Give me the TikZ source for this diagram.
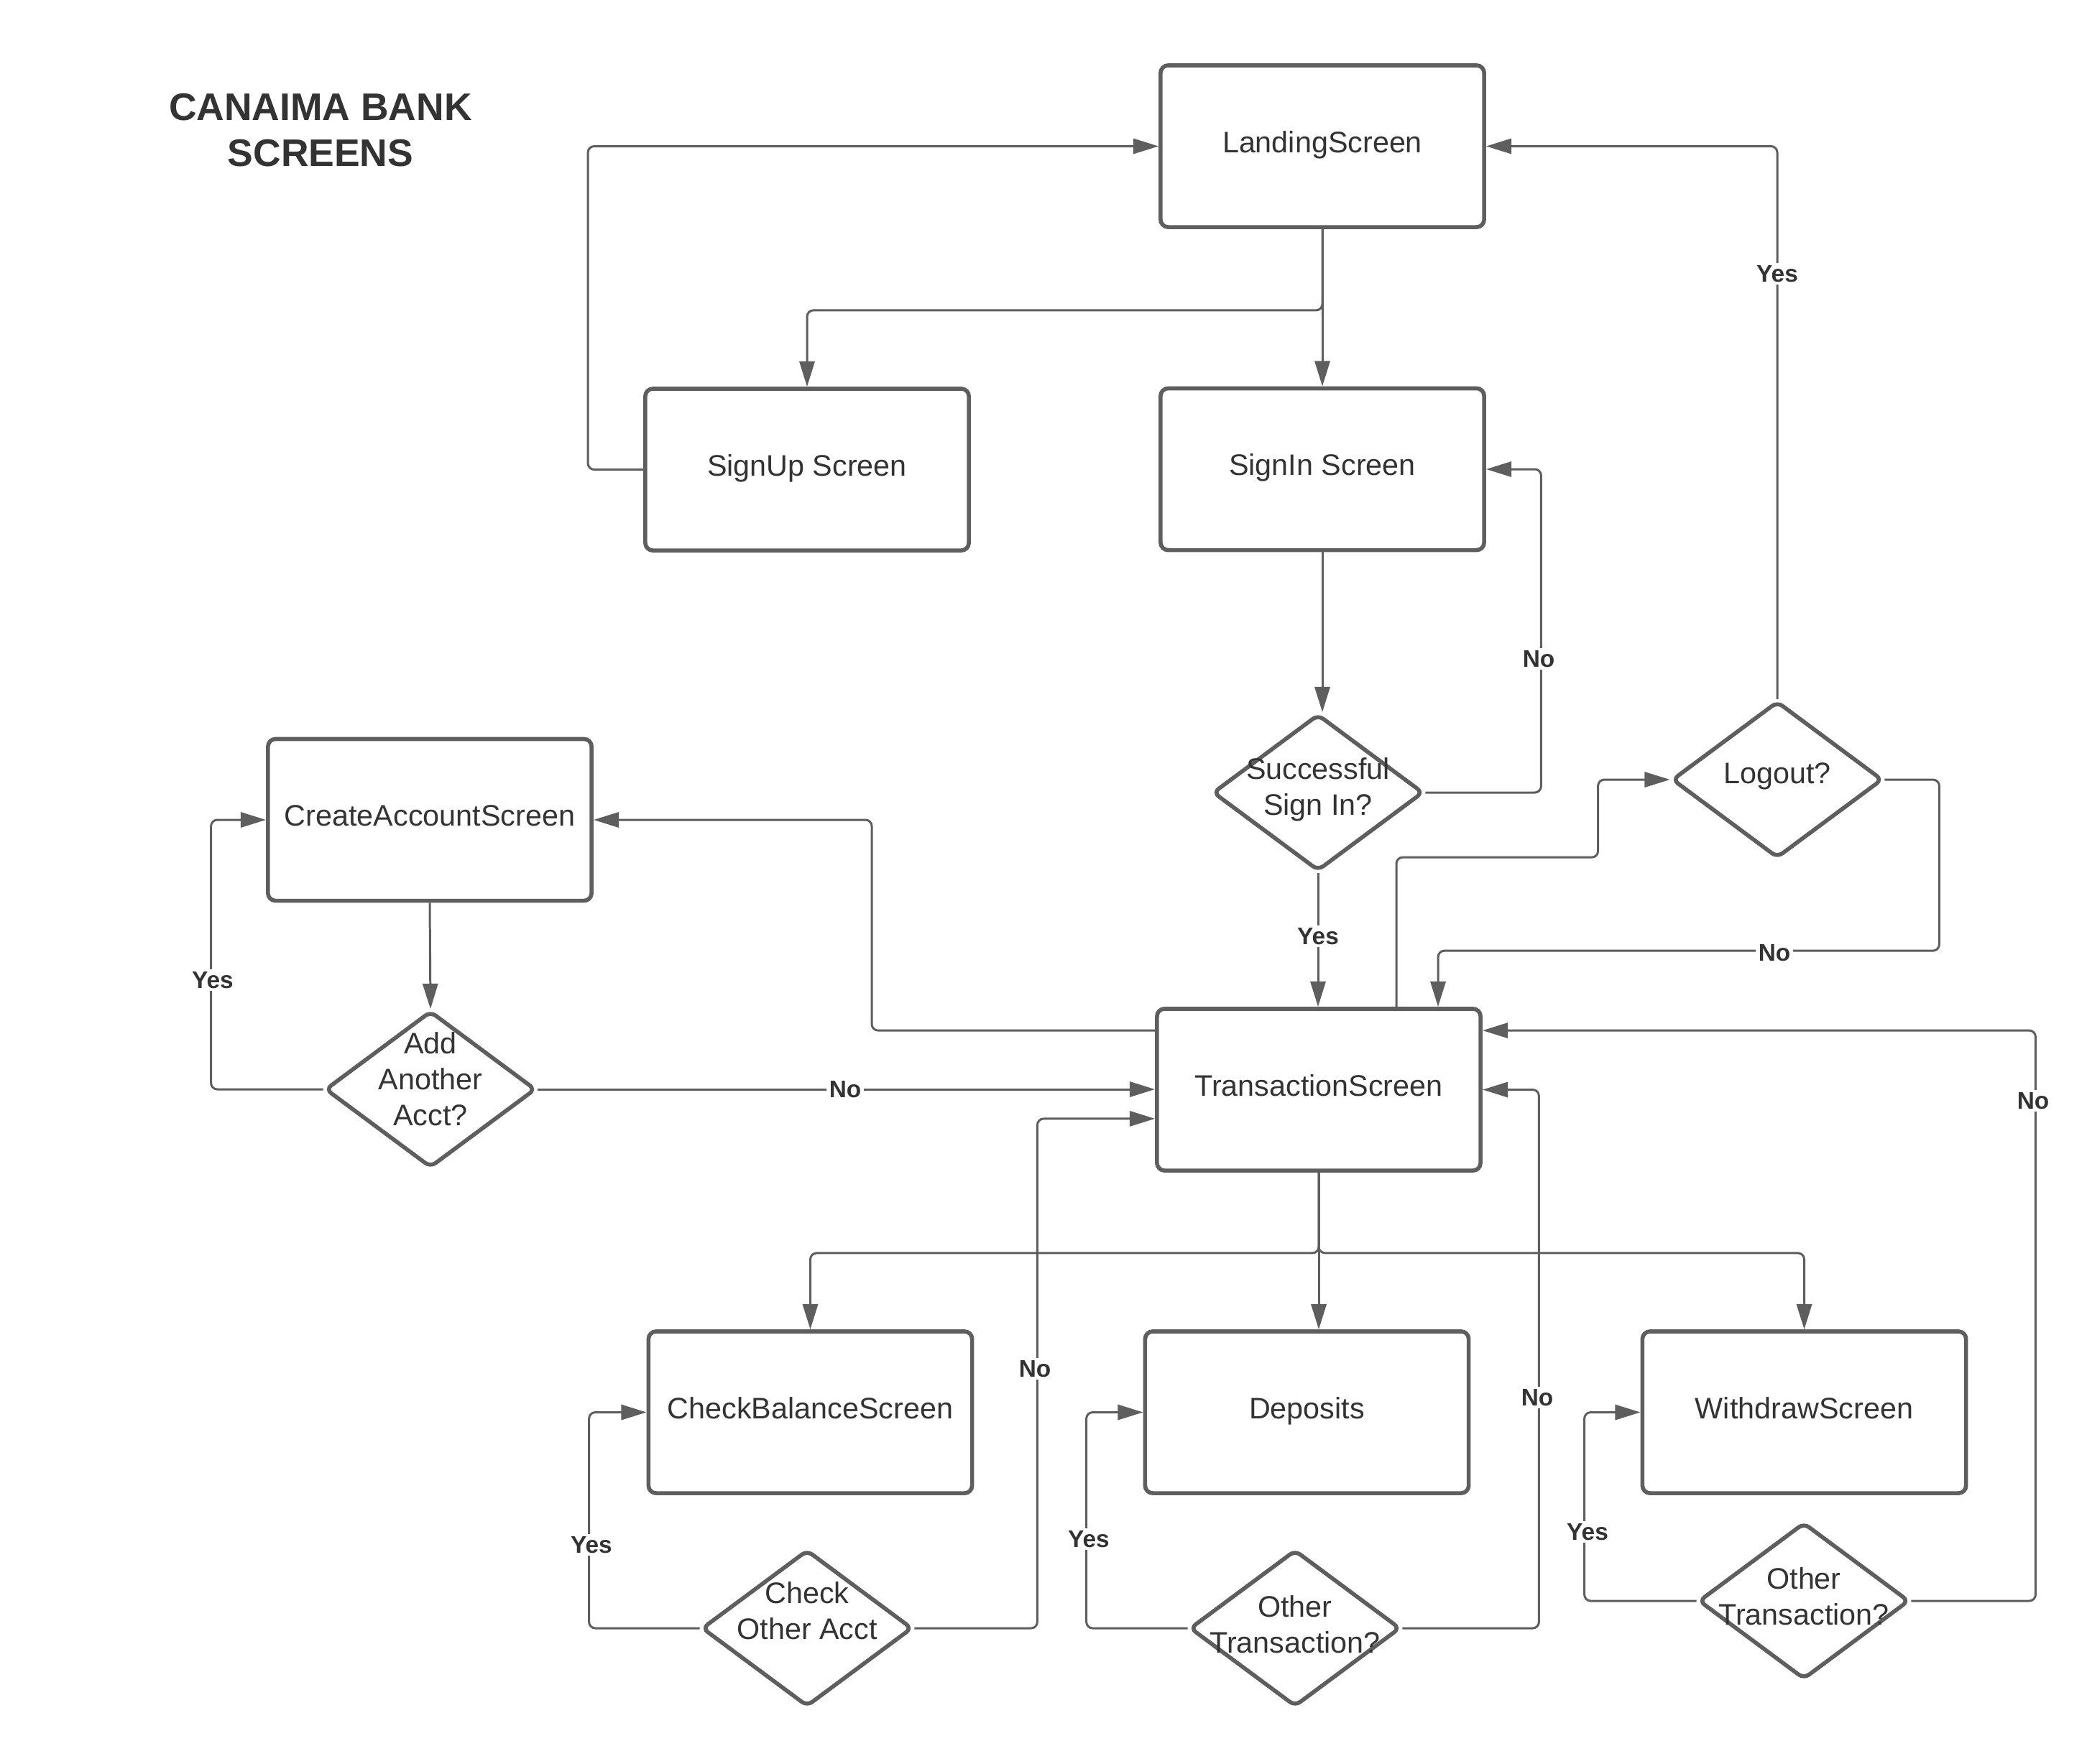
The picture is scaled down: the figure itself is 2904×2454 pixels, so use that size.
\documentclass[tikz,border=0pt]{standalone}
\usepackage{fontspec}
\setmainfont{Liberation Sans}
\usetikzlibrary{arrows.meta,shapes.geometric,calc}
\definecolor{lg}{RGB}{94,94,94}
\definecolor{tg}{RGB}{51,51,51}
\begin{document}
\begin{tikzpicture}[x=0.01cm,y=-0.01cm,
 screen/.style={draw=lg,line width=1.6pt,rounded corners=3pt,minimum width=4.5cm,minimum height=2.25cm,inner sep=0pt,text=tg,font=\fontsize{11.75}{14.2}\selectfont,text height=0.75em,text depth=0.25em},
 decision/.style={draw=lg,line width=1.6pt,diamond,rounded corners=2.5pt,minimum width=2.93cm,minimum height=2.18cm,inner sep=0pt},
 dtext/.style={text=tg,font=\fontsize{11.75}{14.2}\selectfont,align=center,inner sep=0pt},
 conn/.style={draw=lg,line width=0.85pt,rounded corners=2.5pt},
 arr/.style={conn,-{Triangle[length=10pt,width=6pt]}},
 lbl/.style={fill=white,text=tg,font=\bfseries\fontsize{9.5}{11}\selectfont,inner sep=1pt},
]
\useasboundingbox (0,0) rectangle (2904,2454);

\node[text=tg,font=\bfseries\fontsize{15.2}{18.2}\selectfont,align=center] (title) at (446,181) {CANAIMA BANK\\SCREENS};

\node[screen] (landing) at (1840,203.5) {LandingScreen};
\node[screen] (signup) at (1123,653.5) {SignUp Screen};
\node[screen] (signin) at (1840,653) {SignIn Screen};
\node[screen] (create) at (598,1141) {CreateAccountScreen};
\node[screen] (trans) at (1835,1516.5) {TransactionScreen};
\node[screen] (check) at (1127.5,1965.5) {CheckBalanceScreen};
\node[screen] (deposits) at (1818.5,1965.5) {Deposits};
\node[screen] (withdraw) at (2510.5,1965.5) {WithdrawScreen};

\node[decision] (succ) at (1834,1103) {};
\node[decision] (logout) at (2473,1085) {};
\node[decision] (addacct) at (599,1516) {};
\node[decision] (dcheck) at (1123,2266) {};
\node[decision] (ddep) at (1802,2266) {};
\node[decision] (dwith) at (2510,2228) {};

\node[dtext] (succT) at (1834,1099) {Successful\\Sign In?};
\node[dtext] (logoutT) at (2473,1080) {Logout?};
\node[dtext] (addT) at (599,1502) {Add\\Another\\Acct?};
\node[dtext] (dcheckT) at (1123,2242) {Check\\Other Acct};
\node[dtext] (ddepT) at (1802,2261) {Other\\Transaction?};
\node[dtext] (dwithT) at (2510,2222) {Other\\Transaction?};

\draw[arr] (signup.west) -- ++(-77,0) |- (landing.west);
\draw[arr] (landing.south) -- ++(0,113) -| (signup.north);
\draw[arr] (landing.south) -- (signin.north);
\draw[arr] (signin.south) -- (signin.south |- succ.north);
\draw[arr] (succ.east) -- ++(161,0) |- (signin.east);
\draw[arr] (succ.south) -- (succ.south |- trans.north);
\draw[arr] ($(trans.north)+(108,0)$) -- ++(0,-208) -| ($(logout.west)+(-100,0)$) -- (logout.west);
\draw[arr] (logout.north) |- (landing.east);
\draw[arr] (logout.east) -- ++(76,0) |- ($(trans.north)+(166,-78)$) -- ($(trans.north)+(166,0)$);
\draw[arr] ($(trans.north west)+(0,33)$) -- ++(-394,0) |- (create.east);
\draw[arr] (create.south) -- (addacct.north);
\draw[arr] (addacct.west) -- ++(-156,0) |- (create.west);
\draw[arr] (addacct.east) -- (addacct.east -| trans.west);
\draw[arr] (trans.south) -- ++(0,112) -| (check.north);
\draw[arr] (trans.south) -- (trans.south |- deposits.north);
\draw[arr] (trans.south) -- ++(0,112) -| (withdraw.north);
\draw[arr] (dcheck.west) -- ++(-154,0) |- (check.west);
\draw[arr] (dcheck.east) -- ++(171,0) |- ($(trans.south west)+(0,-75)$);
\draw[arr] (ddep.west) -- ++(-141,0) |- (deposits.west);
\draw[arr] (ddep.east) -- ++(190,0) |- (trans.east);
\draw[arr] (dwith.west) -- ++(-156,0) |- (withdraw.west);
\draw[arr] (dwith.east) -- ++(173,0) |- ($(trans.north east)+(0,33)$);

\node[lbl] (l1) at (2141,917) {No};
\node[lbl] (l2) at (1834,1303) {Yes};
\node[lbl] (l3) at (2473,381) {Yes};
\node[lbl] (l4) at (2469,1326) {No};
\node[lbl] (l5) at (296,1364) {Yes};
\node[lbl] (l6) at (1176,1516) {No};
\node[lbl] (l7) at (823,2150) {Yes};
\node[lbl] (l8) at (1440,1905) {No};
\node[lbl] (l9) at (1515,2142) {Yes};
\node[lbl] (l10) at (2139,1945) {No};
\node[lbl] (l11) at (2209,2132) {Yes};
\node[lbl] (l12) at (2829,1532) {No};
\end{tikzpicture}
\end{document}
